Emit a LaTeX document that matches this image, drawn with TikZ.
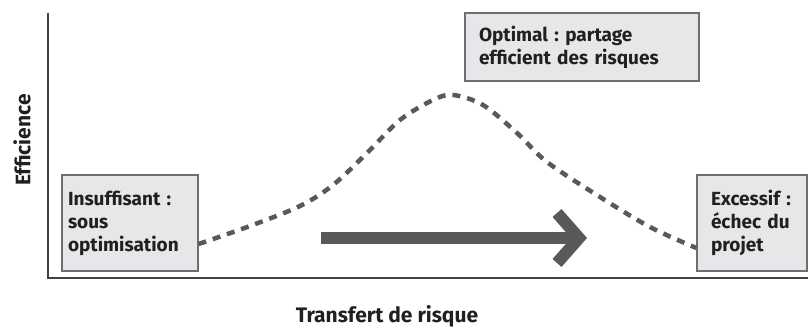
\documentclass[tikz,border=0pt]{standalone}
\usepackage{fontspec}
\setmainfont{Fira Sans}
\usepackage{xcolor}
\usepackage{tikz}
\usetikzlibrary{positioning,arrows.meta}
\frenchspacing

\definecolor{grisfonce}{HTML}{58595B}
\definecolor{grisbord}{HTML}{6D6E71}
\definecolor{grisfond}{HTML}{E6E7E8}
\definecolor{texte}{HTML}{231F20}

\tikzset{
    boite/.style={draw=grisbord, fill=grisfond, line width=1.1pt, align=left,
        text=texte, font=\bfseries\fontsize{19}{23}\selectfont, inner ysep=0pt},
    axe/.style={draw=texte!85, line width=1.3pt},
    courbe/.style={grisfonce, line width=4.5pt, dash pattern=on 8pt off 7pt},
    fleche/.style={grisfonce, line width=12pt,
        -{Straight Barb[length=22pt, width=50pt]}},
    titre/.style={text=texte, font=\bfseries\fontsize{21}{25}\selectfont}
}

\begin{document}
\begin{tikzpicture}[x=1pt, y=-1pt]
    \useasboundingbox (0,0) rectangle (808,328);

    % Axes
    \coordinate (haut) at (48,13);
    \coordinate (origine) at (48,278);
    \coordinate (droite) at (808,278);
    \draw[axe] (haut) -- (origine) -- (droite);
    \node[titre, rotate=90] (efficience) at (22,140) {Efficience};
    \node[titre] (transfert) at (387,316) {Transfert de risque};

    % Boites
    \node[boite, minimum width=136pt, minimum height=96pt, text width=124pt,
        inner xsep=6pt] (insuf) at (130,223)
        {Insuffisant :\\sous\\optimisation};
    \node[boite, minimum width=234pt, minimum height=68pt, text width=206pt,
        inner xsep=14pt] (optimal) at (582,47)
        {Optimal : partage\\efficient des risques};
    \node[boite, minimum width=110pt, minimum height=96pt, text width=82pt,
        inner xsep=14pt] (excessif) at (752,223)
        {Excessif :\\échec du\\projet};

    % Courbe
    \coordinate (debut) at ([yshift=-21pt]insuf.east);
    \coordinate (sommet) at (453,95);
    \coordinate (fin) at ([yshift=-25pt]excessif.west);
    \draw[courbe] plot[smooth, tension=0.55] coordinates {(debut) (250,226)
        (300,206) (333,185) (367,153) (400,120) (433,100) (sommet) (483,105)
        (517,133) (547,162) (600,197) (650,227) (fin)};

    % Fleche
    \coordinate (queue) at (321,238);
    \coordinate (pointe) at (587,238);
    \draw[fleche] (queue) -- (pointe);
\end{tikzpicture}
\end{document}
